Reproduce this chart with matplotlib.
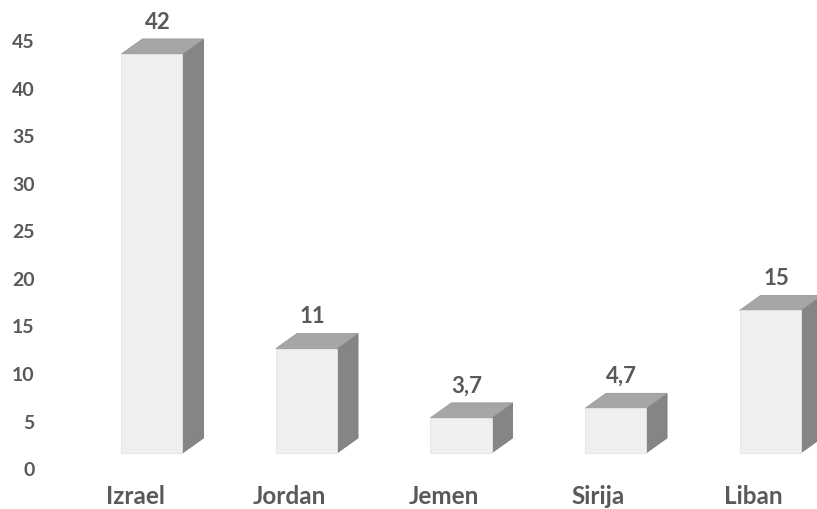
import matplotlib.pyplot as plt
from matplotlib.patches import Polygon, Rectangle
from matplotlib.transforms import ScaledTranslation

countries = ['Izrael', 'Jordan', 'Jemen', 'Sirija', 'Liban']
values = [42, 11, 3.7, 4.7, 15]
value_labels = ['42', '11', '3,7', '4,7', '15']
yticks = [0, 5, 10, 15, 20, 25, 30, 35, 40, 45]

plt.rcParams['font.family'] = ['Lato', 'DejaVu Sans']
plt.rcParams['font.weight'] = 'bold'
text_col = '#595959'

fig = plt.figure(figsize=(8.17, 5.09), dpi=100)
ax = fig.add_axes([50 / 817, 31 / 509, 767 / 817, 478 / 509])
ax.set_xlim(-0.660, 4.304)
ax.set_ylim(-2.63, 47.68)

# 3D-like columns: front face, top face and right side
w = 0.395
dx = 0.136
dy = 1.58
front_col = '#efefef'
top_col = '#a6a6a6'
side_col = '#858585'

for i, v in enumerate(values):
    x0 = i - w / 2
    x1 = i + w / 2
    ax.add_patch(Polygon([(x1, 0), (x1 + dx, dy), (x1 + dx, v + dy), (x1, v)],
                         closed=True, facecolor=side_col, edgecolor='#7a7a7a', lw=0.6))
    ax.add_patch(Polygon([(x0, v), (x1, v), (x1 + dx, v + dy), (x0 + dx, v + dy)],
                         closed=True, facecolor=top_col, edgecolor='#9a9a9a', lw=0.6))
    ax.add_patch(Rectangle((x0, 0), w, v, facecolor=front_col, edgecolor='#e4e4e4', lw=0.6))
    ax.annotate(value_labels[i], (i + 0.04, v), xytext=(0, 23), textcoords='offset points',
                ha='center', va='center', fontsize=16, color=text_col, fontweight='bold')

ax.set_yticks(yticks)
ax.set_yticklabels([str(t) for t in yticks])
ax.set_xticks([i - 0.11 for i in range(len(countries))])
ax.set_xticklabels(countries)
ax.tick_params(axis='y', length=0, pad=11, labelsize=14, labelcolor=text_col)
ax.tick_params(axis='x', length=0, pad=5, labelsize=17.5, labelcolor=text_col)

# the value axis labels sit slightly below the front plane of the columns
shift = ScaledTranslation(0, -16 / 100, fig.dpi_scale_trans)
for lbl in ax.get_yticklabels():
    lbl.set_transform(lbl.get_transform() + shift)

for s in ax.spines.values():
    s.set_visible(False)
ax.patch.set_alpha(0)

fig.savefig('out.png', dpi=100)
